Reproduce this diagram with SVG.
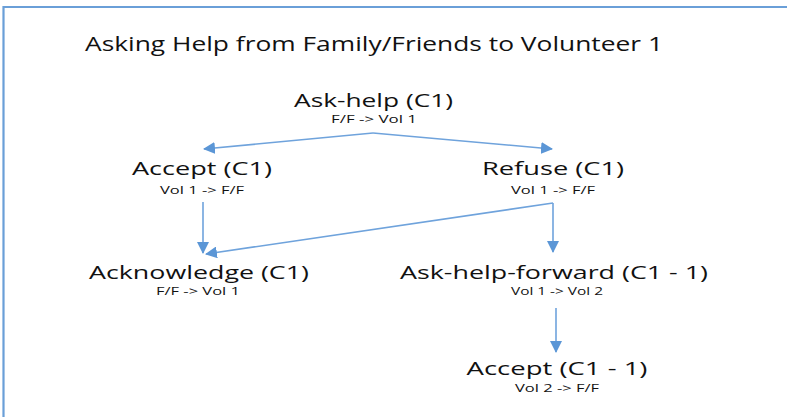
<svg xmlns="http://www.w3.org/2000/svg" width="787" height="417" viewBox="0 0 787 417">
  <defs>
    <style>
      .main { font-family: "Open Sans", "Liberation Sans", sans-serif; font-size: 18.5px; fill: #111; text-anchor: middle; }
      .title { font-family: "Open Sans", "Liberation Sans", sans-serif; font-size: 19.5px; fill: #111; }
      .sub { font-family: "Open Sans", "Liberation Sans", sans-serif; font-size: 10.5px; fill: #111; text-anchor: middle; }
      .conn { stroke: #6fa3dc; stroke-width: 1.6; fill: none; marker-end: url(#arrow); }
    </style>
    <marker id="arrow" markerUnits="userSpaceOnUse" markerWidth="12" markerHeight="12" refX="11" refY="6" orient="auto" viewBox="0 0 12 12">
      <path d="M0,0 L12,6 L0,12 Z" fill="#5b96d6"/>
    </marker>
  </defs>
  <rect x="0" y="0" width="787" height="417" fill="#ffffff"/>
  <g id="frame" stroke="#6a9fd8" stroke-width="2.2" fill="none">
    <path d="M3.5,417 L3.5,7 L787,7"/>
  </g>
  <text id="title" class="title" x="85" y="51" textLength="578" lengthAdjust="spacingAndGlyphs">Asking Help from Family/Friends to Volunteer 1</text>

  <g id="connectors">
    <path class="conn" d="M373,133 L204,149"/>
    <path class="conn" d="M373,133 L552,149"/>
    <path class="conn" d="M203,202 L203,253"/>
    <path class="conn" d="M553,203 L206,254"/>
    <path class="conn" d="M553,203 L553,252"/>
    <path class="conn" d="M556,308 L556,352"/>
  </g>

  <g id="ask-help">
    <text class="main" x="373.5" y="107" textLength="159" lengthAdjust="spacingAndGlyphs">Ask-help (C1)</text>
    <text class="sub" x="374" y="123" textLength="86" lengthAdjust="spacingAndGlyphs">F/F -&gt; Vol 1</text>
  </g>
  <g id="accept">
    <text class="main" x="202" y="175" textLength="140" lengthAdjust="spacingAndGlyphs">Accept (C1)</text>
    <text class="sub" x="202" y="194" textLength="84" lengthAdjust="spacingAndGlyphs">Vol 1 -&gt; F/F</text>
  </g>
  <g id="refuse">
    <text class="main" x="553" y="175" textLength="142" lengthAdjust="spacingAndGlyphs">Refuse (C1)</text>
    <text class="sub" x="553" y="194" textLength="84" lengthAdjust="spacingAndGlyphs">Vol 1 -&gt; F/F</text>
  </g>
  <g id="acknowledge">
    <text class="main" x="199" y="279" textLength="220" lengthAdjust="spacingAndGlyphs">Acknowledge (C1)</text>
    <text class="sub" x="198" y="295" textLength="84" lengthAdjust="spacingAndGlyphs">F/F -&gt; Vol 1</text>
  </g>
  <g id="ask-help-forward">
    <text class="main" x="554" y="279" textLength="308" lengthAdjust="spacingAndGlyphs">Ask-help-forward (C1 - 1)</text>
    <text class="sub" x="557" y="295" textLength="92" lengthAdjust="spacingAndGlyphs">Vol 1 -&gt; Vol 2</text>
  </g>
  <g id="accept-forward">
    <text class="main" x="557" y="375" textLength="181" lengthAdjust="spacingAndGlyphs">Accept (C1 - 1)</text>
    <text class="sub" x="557" y="392" textLength="84" lengthAdjust="spacingAndGlyphs">Vol 2 -&gt; F/F</text>
  </g>
</svg>
